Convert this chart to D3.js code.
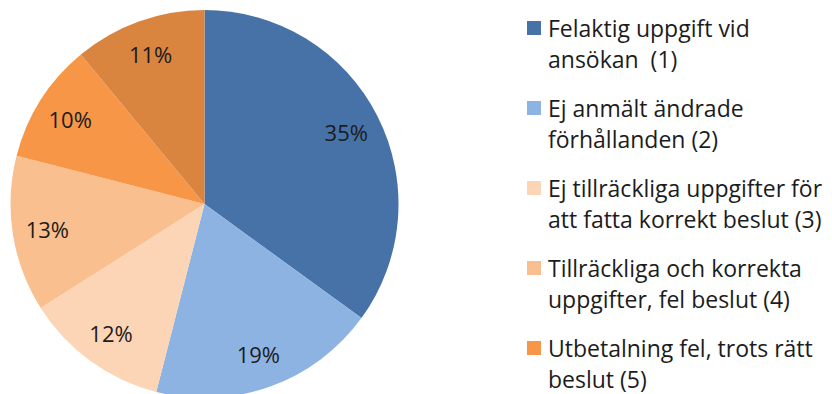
<!DOCTYPE html>
<html>
<head>
<meta charset="utf-8">
<script src="https://cdn.jsdelivr.net/npm/d3@7"></script>
<style>
  html, body { margin: 0; padding: 0; background: #ffffff; }
  svg { display: block; }
  text { font-family: "Open Sans", "Noto Sans", sans-serif; fill: #1c1c1c; white-space: pre; }
</style>
</head>
<body>
<svg id="chart" width="832" height="394"></svg>
<script>
// Share of errors by cause (percent)
const categories = [
  "Felaktig uppgift vid ansökan  (1)",
  "Ej anmält ändrade förhållanden (2)",
  "Ej tillräckliga uppgifter för att fatta korrekt beslut (3)",
  "Tillräckliga och korrekta uppgifter, fel beslut (4)",
  "Utbetalning fel, trots rätt beslut (5)",
  "Övrigt (6)"
];
const values = [35, 19, 12, 13, 10, 11];
const colors = ["#4672a8", "#8db3e2", "#fbd5b5", "#f9bf8f", "#f79646", "#d9843f"];

// Legend lines as they wrap in the legend column
const legendLines = [
  ["Felaktig uppgift vid", "ansökan  (1)"],
  ["Ej anmält ändrade", "förhållanden (2)"],
  ["Ej tillräckliga uppgifter för", "att fatta korrekt beslut (3)"],
  ["Tillräckliga och korrekta", "uppgifter, fel beslut (4)"],
  ["Utbetalning fel, trots rätt", "beslut (5)"]
];

const svg = d3.select("#chart");
const cx = 204.5, cy = 204, radius = 194;

const data = categories.map((c, i) => ({ name: c, value: values[i], color: colors[i] }));

const pie = d3.pie().value(d => d.value).sort(null);
const arc = d3.arc().innerRadius(0).outerRadius(radius);
const labelArc = d3.arc().innerRadius(radius * 0.82).outerRadius(radius * 0.82);

const g = svg.append("g").attr("transform", `translate(${cx},${cy})`);
const arcs = pie(data);

g.selectAll("path.slice")
  .data(arcs)
  .join("path")
  .attr("class", "slice")
  .attr("d", arc)
  .attr("fill", d => d.data.color);

g.selectAll("text.pct")
  .data(arcs)
  .join("text")
  .attr("class", "pct")
  .attr("transform", d => `translate(${labelArc.centroid(d)})`)
  .attr("text-anchor", "middle")
  .attr("dominant-baseline", "central")
  .style("font-size", "22px")
  .text(d => d.data.value + "%");

// Legend
const legend = svg.append("g").attr("transform", "translate(527,21)");
const entryStep = 80, lineStep = 31;

const items = legend.selectAll("g.item")
  .data(legendLines)
  .join("g")
  .attr("class", "item")
  .attr("transform", (d, i) => `translate(0,${i * entryStep})`);

items.append("rect")
  .attr("width", 14)
  .attr("height", 14)
  .attr("fill", (d, i) => colors[i]);

items.each(function(lines) {
  const t = d3.select(this).append("text")
    .style("font-size", "23px");
  lines.forEach((line, j) => {
    t.append("tspan").attr("x", 21).attr("y", 16 + j * lineStep).text(line);
  });
});
</script>
</body>
</html>
